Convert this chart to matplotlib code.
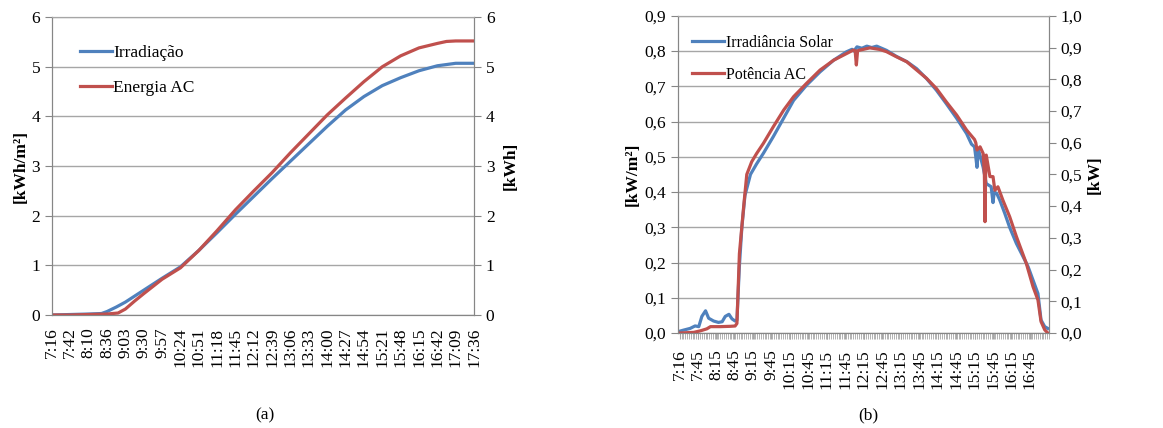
import matplotlib
matplotlib.use("Agg")
import matplotlib.pyplot as plt
from matplotlib.ticker import FuncFormatter, MultipleLocator

plt.rcParams['font.family'] = ['Liberation Serif', 'DejaVu Serif']
plt.rcParams['font.size'] = 12

BLUE = '#4F81BD'
RED = '#C0504D'
GRID = '#A6A6A6'
AXC = '#868686'

# ---- (a) accumulated energy ----
labels_a = ['7:16', '7:42', '8:10', '8:36', '9:03', '9:30', '9:57', '10:24',
            '10:51', '11:18', '11:45', '12:12', '12:39', '13:06', '13:33',
            '14:00', '14:27', '14:54', '15:21', '15:48', '16:15', '16:42',
            '17:09', '17:36']
irr_pos = [0, 1, 2, 2.7, 3, 3.5, 4, 4.5, 5, 6, 7, 8, 9, 10, 11, 12, 13, 14,
           15, 16, 17, 18, 19, 20, 21, 22, 23]
irr_acc = [0, 0.01, 0.02, 0.03, 0.07, 0.16, 0.26, 0.38, 0.50, 0.74, 0.97,
           1.30, 1.66, 2.03, 2.39, 2.75, 3.10, 3.45, 3.80, 4.13, 4.40, 4.62,
           4.78, 4.92, 5.02, 5.07, 5.07]
en_pos = [0, 1, 2, 3, 3.6, 4, 4.5, 5, 6, 7, 8, 9, 10, 11, 12, 13, 14, 15,
          16, 17, 18, 19, 20, 21, 21.5, 22, 23]
en_acc = [0, 0, 0.01, 0.02, 0.04, 0.12, 0.28, 0.43, 0.72, 0.95, 1.30, 1.70,
          2.12, 2.50, 2.87, 3.27, 3.65, 4.03, 4.37, 4.70, 5.00, 5.22, 5.38,
          5.47, 5.51, 5.52, 5.52]

# ---- (b) instantaneous values, minutes after 7:16 ----
labels_b = ['7:16', '7:45', '8:15', '8:45', '9:15', '9:45', '10:15', '10:45',
            '11:15', '11:45', '12:15', '12:45', '13:15', '13:45', '14:15',
            '14:45', '15:15', '15:45', '16:15', '16:45']
irr_t = [0, 6, 17, 25, 31, 36, 42, 47, 55, 63, 69, 74, 80, 85, 90, 93, 97,
         101, 106, 115, 125, 136, 152, 169, 185, 206, 228, 250, 271, 280,
         283, 288, 296, 304, 312, 320, 336, 352, 369, 385, 401, 417, 433,
         450, 466, 474, 479, 481, 483, 485, 487, 493, 498, 506, 509, 511,
         515, 520, 528, 536, 547, 558, 566, 574, 582, 587, 593, 598]
irr_kw = [0.005, 0.008, 0.013, 0.02, 0.018, 0.047, 0.063, 0.042, 0.034, 0.03,
          0.032, 0.047, 0.053, 0.04, 0.034, 0.037, 0.19, 0.30, 0.39, 0.45,
          0.48, 0.51, 0.557, 0.61, 0.66, 0.703, 0.741, 0.774, 0.798, 0.805,
          0.80, 0.812, 0.808, 0.814, 0.810, 0.814, 0.802, 0.785, 0.77, 0.75,
          0.722, 0.689, 0.651, 0.609, 0.566, 0.536, 0.528, 0.50, 0.47, 0.52,
          0.51, 0.47, 0.424, 0.415, 0.37, 0.40, 0.396, 0.377, 0.34, 0.30,
          0.254, 0.216, 0.188, 0.15, 0.112, 0.037, 0.018, 0.013]
pac_t = [1, 23, 34, 44, 50, 66, 82, 90, 93, 97, 104, 109, 117, 125, 136, 152,
         169, 185, 206, 228, 250, 266, 282, 285, 287, 289, 293, 309, 325, 336,
         352, 369, 385, 401, 417, 433, 450, 466, 479, 481, 483, 488, 493, 495,
         496, 497, 498, 504, 509, 512, 517, 525, 536, 547, 563, 574, 582, 587,
         593, 598]
pac_kw = [0.0, 0.002, 0.007, 0.013, 0.02, 0.02, 0.021, 0.022, 0.03, 0.25,
          0.40, 0.50, 0.54, 0.566, 0.598, 0.65, 0.703, 0.745, 0.787, 0.829,
          0.86, 0.876, 0.892, 0.89, 0.845, 0.89, 0.892, 0.899, 0.894, 0.887,
          0.871, 0.855, 0.829, 0.803, 0.771, 0.729, 0.687, 0.64, 0.61, 0.60,
          0.577, 0.587, 0.566, 0.50, 0.351, 0.50, 0.561, 0.493, 0.493, 0.45,
          0.461, 0.419, 0.367, 0.304, 0.22, 0.146, 0.104, 0.036, 0.01, 0.0]


def comma(v, p):
    return ('%.1f' % v).replace('.', ',')


def style(ax, ax2):
    for a in (ax, ax2):
        for s in a.spines.values():
            s.set_color(AXC)
        a.spines['top'].set_color(GRID)
        a.tick_params(axis='y', direction='out', length=5, color=AXC,
                      labelsize=12.5)
    ax.yaxis.grid(True, color=GRID, linewidth=1)
    ax.set_axisbelow(True)


fig = plt.figure(figsize=(11.63, 4.28), dpi=100)

# (a)
ax1 = fig.add_axes([0.0447, 0.264, 0.3629, 0.696])
ax1b = ax1.twinx()
style(ax1, ax1b)
l1, = ax1.plot(irr_pos, irr_acc, color=BLUE, lw=2.3, label='Irradiação')
l2, = ax1b.plot(en_pos, en_acc, color=RED, lw=2.3, label='Energia AC')
ax1.set_xlim(0, len(labels_a) - 1)
ax1.set_ylim(0, 6)
ax1b.set_ylim(0, 6)
ax1.set_xticks(range(len(labels_a)))
ax1.set_xticklabels(labels_a, rotation=90, fontsize=12.5)
ax1.tick_params(axis='x', length=0, pad=9)
ax1.set_ylabel('[kWh/m²]', fontweight='bold', fontsize=12.5, labelpad=2)
ax1b.set_ylabel('[kWh]', fontweight='bold', fontsize=12.5, labelpad=6)
ax1.legend(handles=[l1, l2], loc='upper left', bbox_to_anchor=(0.03, 0.96),
           frameon=False, fontsize=12.5, handlelength=1.8, handletextpad=0.1,
           labelspacing=1.1)
fig.text(0.228, 0.030, '(a)', ha='center', va='center', fontsize=12.5)

# (b)
ax2 = fig.add_axes([0.583, 0.222, 0.319, 0.741])
ax2b = ax2.twinx()
style(ax2, ax2b)
l3, = ax2.plot(irr_t, irr_kw, color=BLUE, lw=2.3, label='Irradiância Solar')
l4, = ax2b.plot(pac_t, pac_kw, color=RED, lw=2.3, label='Potência AC')
ax2.set_xlim(-2.7, 600)
ax2.set_ylim(0, 0.9)
ax2b.set_ylim(0, 1.0)
ax2.yaxis.set_major_locator(MultipleLocator(0.1))
ax2b.yaxis.set_major_locator(MultipleLocator(0.1))
ax2.yaxis.set_major_formatter(FuncFormatter(comma))
ax2b.yaxis.set_major_formatter(FuncFormatter(comma))
ax2.set_xticks([0] + [29 + 30 * i for i in range(len(labels_b) - 1)])
ax2.set_xticklabels(labels_b, rotation=90, fontsize=12.5)
ax2.xaxis.set_minor_locator(MultipleLocator(3))
ax2.tick_params(axis='x', which='both', direction='out', length=4,
                color=GRID, pad=8)
ax2.set_ylabel('[kW/m²]', fontweight='bold', fontsize=12.5, labelpad=3)
ax2b.set_ylabel('[kW]', fontweight='bold', fontsize=12.5, labelpad=3)
ax2.legend(handles=[l3, l4], loc='upper left', bbox_to_anchor=(0.0, 0.985),
           frameon=False, fontsize=11.5, handlelength=2.0, handletextpad=0.1,
           labelspacing=1.0)
fig.text(0.747, 0.030, '(b)', ha='center', va='center', fontsize=12.5)

fig.savefig('out.png', dpi=100)
